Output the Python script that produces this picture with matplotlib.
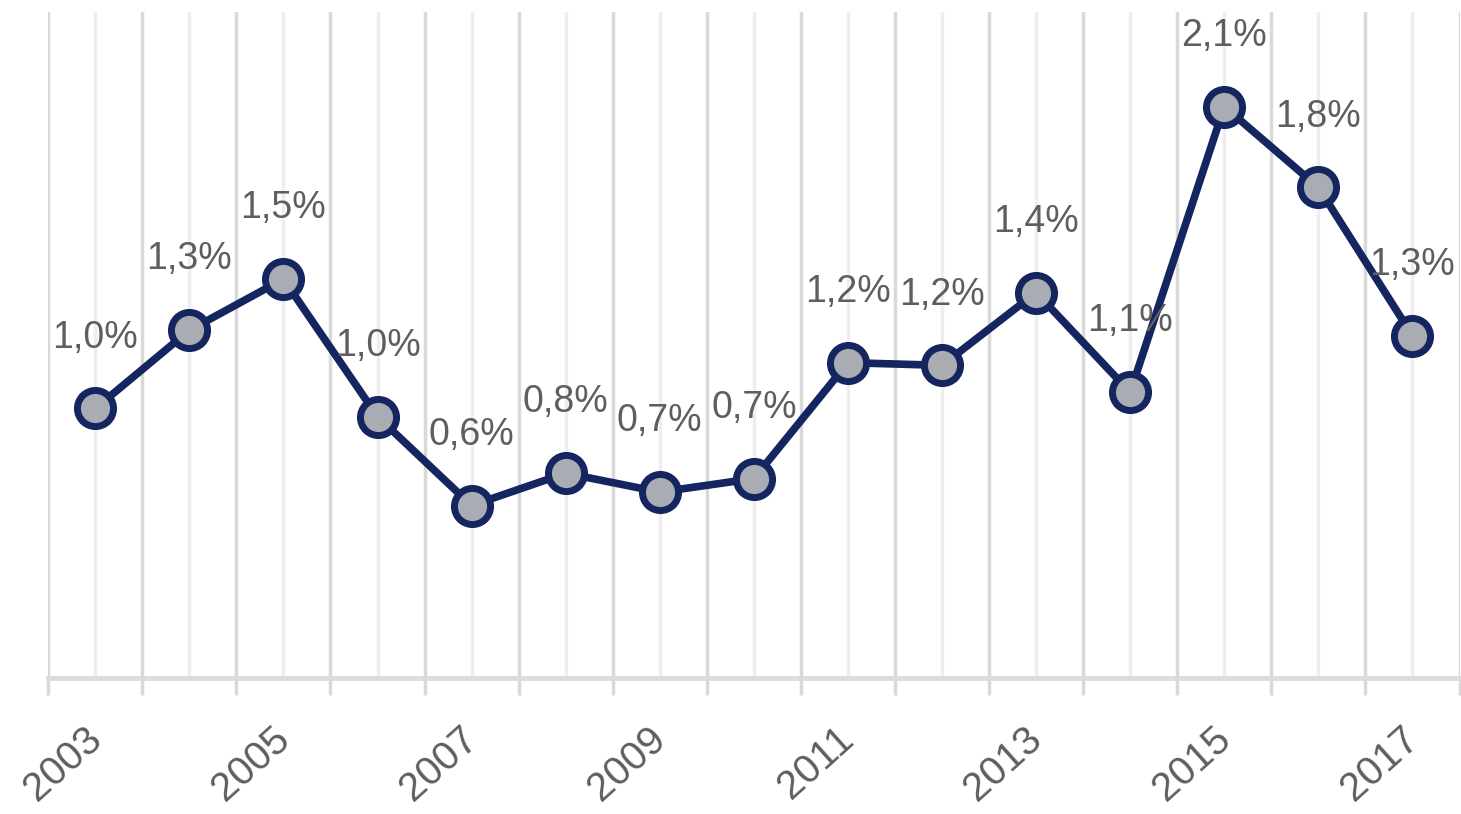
import matplotlib.pyplot as plt
import matplotlib.transforms as mtransforms

# yearly rate, percent
years = [2003, 2004, 2005, 2006, 2007, 2008, 2009, 2010,
         2011, 2012, 2013, 2014, 2015, 2016, 2017]
rate = [1.00, 1.29, 1.48, 0.97, 0.64, 0.76, 0.69, 0.74,
        1.17, 1.16, 1.43, 1.06, 2.12, 1.82, 1.27]
# only every second year gets a tick label
tick_labels = [str(y) if y % 2 == 1 else '' for y in years]

line_col = '#14255f'
face_col = '#a9acb3'
text_col = '#5e5e5e'

plt.rcParams['font.family'] = ['Liberation Sans', 'DejaVu Sans']

fig = plt.figure(figsize=(14.61, 8.14), dpi=100)
ax = fig.add_axes([0.033, 0.167, 0.966, 0.818])

x = list(range(len(years)))
ax.plot(x, rate, color=line_col, linewidth=5.5, marker='o',
        markersize=26, markerfacecolor=face_col,
        markeredgecolor=line_col, markeredgewidth=5, zorder=3)

# value labels above each point, decimal comma
for xi, v in zip(x, rate):
    lab = f'{v:.1f}'.replace('.', ',') + '%'
    ax.annotate(lab, (xi, v), xytext=(0, 51), textcoords='offset points',
                ha='center', va='center', fontsize=27, color=text_col,
                zorder=4)

ax.set_xlim(-0.5, len(years) - 0.5)
ax.set_ylim(0, 2.47)

# light lines on the points, darker ones on category borders
ax.set_xticks(x)
ax.set_xticklabels(tick_labels, rotation=42, ha='right',
                   rotation_mode='anchor', fontsize=29, color=text_col)
ax.set_xticks([i - 0.5 for i in range(len(years) + 1)], minor=True)
ax.tick_params(axis='x', which='major', length=0, pad=30)
ax.tick_params(axis='x', which='minor', length=12, width=2.5,
               color='#d9d9d9', direction='out')
ax.grid(True, axis='x', which='major', color='#eeeeee', linewidth=2.5)
ax.grid(True, axis='x', which='minor', color='#d9d9d9', linewidth=2.5)
ax.set_axisbelow(True)

# nudge year labels a little to the left
shift = mtransforms.ScaledTranslation(-12 / 100, 0, fig.dpi_scale_trans)
for lbl in ax.get_xticklabels():
    lbl.set_transform(lbl.get_transform() + shift)

ax.set_yticks([])
for side in ['top', 'right', 'left']:
    ax.spines[side].set_visible(False)
ax.spines['bottom'].set_color('#dcdcdc')
ax.spines['bottom'].set_linewidth(3.5)

plt.savefig('out.png', dpi=100)
